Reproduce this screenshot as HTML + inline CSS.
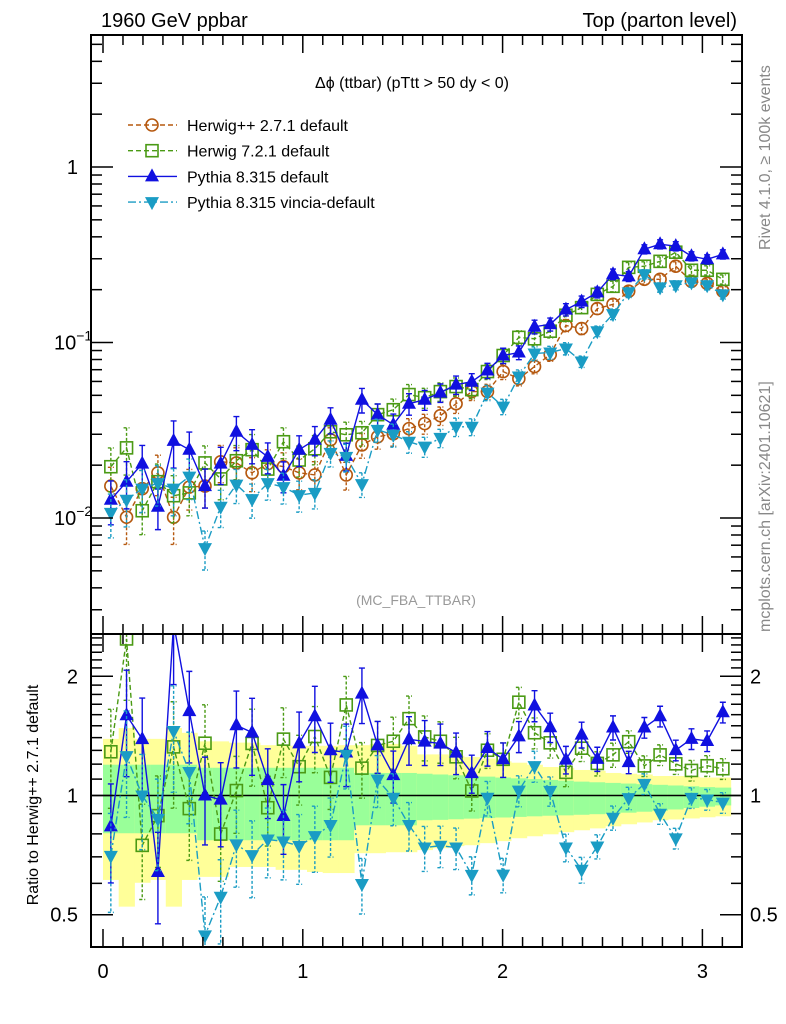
<!DOCTYPE html>
<html><head><meta charset="utf-8">
<style>
html,body{margin:0;padding:0;background:#fff;}
svg{display:block;font-family:"Liberation Sans",sans-serif;}
</style></head>
<body>
<svg id="chart" width="786" height="1024" viewBox="0 0 786 1024" xmlns="http://www.w3.org/2000/svg">
<defs>
<clipPath id="clipMain"><rect x="91" y="35" width="651" height="599"/></clipPath>
<clipPath id="clipRatio"><rect x="91" y="634" width="651" height="313"/></clipPath>
</defs>
<text x="101" y="27" font-size="20">1960 GeV ppbar</text>
<text x="737" y="27" font-size="20" text-anchor="end">Top (parton level)</text>
<text x="412" y="88" font-size="16" text-anchor="middle">Δϕ (ttbar) (pTtt &gt; 50 dy &lt; 0)</text>
<text x="416" y="605" font-size="14" fill="#999" text-anchor="middle">(MC_FBA_TTBAR)</text>
<text transform="translate(770,250) rotate(-90)" font-size="16" fill="#888">Rivet 4.1.0, ≥ 100k events</text>
<text transform="translate(770,632) rotate(-90)" font-size="16" fill="#888">mcplots.cern.ch [arXiv:2401.10621]</text>
<text transform="translate(38,795) rotate(-90)" font-size="16" text-anchor="middle">Ratio to Herwig++ 2.7.1 default</text>
<g id="bands" clip-path="url(#clipRatio)"></g>
<g id="ratioMarks" clip-path="url(#clipRatio)"></g>
<g id="mainMarks" clip-path="url(#clipMain)"></g>
<g id="axes"></g>
<g id="legend"></g>
</svg>
<script>
const binWidth = Math.PI/40;
const herwigpp = [0.0152,0.0101,0.0147,0.0181,0.0101,0.0150,0.0152,0.0209,0.0206,0.0181,0.0204,0.0196,0.0181,0.0176,0.0279,0.0176,0.0261,0.0290,0.0302,0.0323,0.0345,0.0383,0.0448,0.0525,0.0525,0.0683,0.0622,0.0729,0.0854,0.125,0.120,0.156,0.165,0.196,0.229,0.229,0.272,0.223,0.217,0.196];
const herwig7 = [0.0196,0.0251,0.0110,0.0161,0.0134,0.0139,0.0206,0.0167,0.0212,0.0245,0.0190,0.0272,0.0214,0.0248,0.0310,0.0298,0.0306,0.0388,0.0414,0.0505,0.0485,0.0525,0.0561,0.0539,0.0683,0.0843,0.107,0.105,0.116,0.143,0.158,0.188,0.209,0.268,0.272,0.290,0.327,0.258,0.258,0.229];
const pythia = [0.0127,0.0161,0.0204,0.0116,0.0275,0.0245,0.0152,0.0204,0.0310,0.0261,0.0223,0.0174,0.0245,0.0279,0.0363,0.0226,0.0472,0.0388,0.0340,0.0448,0.0472,0.0518,0.0575,0.0598,0.0692,0.0843,0.0877,0.123,0.127,0.154,0.171,0.193,0.245,0.238,0.340,0.363,0.354,0.310,0.298,0.318];
const vincia = [0.0107,0.0127,0.0147,0.0158,0.0147,0.0172,0.00674,0.0116,0.0155,0.0128,0.0158,0.0150,0.0135,0.0139,0.0235,0.0223,0.0156,0.0318,0.0298,0.0272,0.0255,0.0286,0.0331,0.0331,0.0518,0.0431,0.0640,0.0865,0.0877,0.0924,0.0779,0.116,0.145,0.193,0.245,0.206,0.212,0.220,0.212,0.188];
const errRel = [0.28,0.3,0.27,0.26,0.3,0.26,0.25,0.24,0.22,0.22,0.2,0.2,0.2,0.19,0.17,0.18,0.16,0.15,0.15,0.14,0.13,0.12,0.12,0.11,0.1,0.1,0.09,0.09,0.085,0.08,0.075,0.07,0.07,0.065,0.06,0.06,0.06,0.06,0.06,0.06];
const yellowUp = [1.39,1.48,1.39,1.39,1.48,1.44,1.37,1.37,1.36,1.36,1.34,1.335,1.335,1.335,1.335,1.34,1.34,1.35,1.35,1.335,1.27,1.27,1.26,1.25,1.24,1.22,1.21,1.196,1.18,1.175,1.16,1.155,1.14,1.135,1.13,1.12,1.12,1.116,1.11,1.11];
const yellowDn = [0.612,0.524,0.602,0.612,0.524,0.612,0.623,0.623,0.66,0.66,0.66,0.649,0.649,0.641,0.637,0.637,0.715,0.715,0.719,0.719,0.728,0.736,0.745,0.749,0.758,0.767,0.78,0.789,0.798,0.808,0.817,0.826,0.836,0.846,0.855,0.866,0.87,0.875,0.881,0.886];
const greenUp = [1.196,1.196,1.196,1.196,1.196,1.196,1.175,1.175,1.175,1.175,1.175,1.175,1.175,1.175,1.175,1.175,1.14,1.14,1.14,1.14,1.135,1.13,1.125,1.12,1.116,1.11,1.105,1.1,1.095,1.09,1.084,1.08,1.076,1.072,1.068,1.064,1.06,1.055,1.05,1.047];
const greenDn = [0.803,0.803,0.803,0.803,0.803,0.803,0.771,0.771,0.771,0.771,0.771,0.771,0.771,0.771,0.771,0.771,0.841,0.841,0.841,0.841,0.866,0.868,0.871,0.874,0.877,0.88,0.883,0.886,0.889,0.891,0.894,0.897,0.9,0.905,0.91,0.915,0.922,0.93,0.937,0.944];
const xTicks = [0,1,2,3];
const mainTickLabels = [[1,"1"],[0.1,"10"],[0.01,"10"]];
const ratioTickLabels = [[2,"2"],[1,"1"],[0.5,"0.5"]];

const NS="http://www.w3.org/2000/svg";
const X = v => 103 + v*199.8;
const YM = v => 167 - Math.log10(v)*175.5;
const YR = v => 795.5 - Math.log10(v)*396;
function mk(tag, attrs, parent){const e=document.createElementNS(NS,tag);for(const k in attrs)e.setAttribute(k,attrs[k]);parent.appendChild(e);return e;}
const axes=document.getElementById('axes');

// bands
const bandsG=document.getElementById('bands');
for(let i=0;i<40;i++){
  const x0=X(i*binWidth), x1=X((i+1)*binWidth);
  const y=mk('rect',{x:x0,y:YR(yellowUp[i]),width:x1-x0+0.5,height:YR(yellowDn[i])-YR(yellowUp[i]),fill:'#ffff99'},bandsG);
  
  
  const g=mk('rect',{x:x0,y:YR(greenUp[i]),width:x1-x0+0.5,height:YR(greenDn[i])-YR(greenUp[i]),fill:'#99ff99'},bandsG);
  
  
}
const ref=mk('line',{x1:91,x2:742,y1:YR(1),y2:YR(1),stroke:'#000','stroke-width':1.5},bandsG);



const series=[
 {name:'herwigpp',vals:herwigpp,color:'#b5580f',dash:'5,3',marker:'circle',ratio:false},
 {name:'herwig7',vals:herwig7,color:'#4a9a14',dash:'5,3',marker:'square',ratio:true},
 {name:'pythia',vals:pythia,color:'#1010e0',dash:'',marker:'up',ratio:true},
 {name:'vincia',vals:vincia,color:'#1a9cc4',dash:'8,3,2,3',marker:'down',ratio:true}
];
function marker(g,type,cx,cy,color,name){
  let e;
  if(type==='circle') e=mk('circle',{cx,cy,r:6,fill:'none',stroke:color,'stroke-width':1.6},g);
  else if(type==='square') e=mk('rect',{x:cx-6,y:cy-6,width:12,height:12,fill:'none',stroke:color,'stroke-width':1.6},g);
  else if(type==='up') e=mk('polygon',{points:`${cx},${cy-8} ${cx-7},${cy+5} ${cx+7},${cy+5}`,fill:color},g);
  else e=mk('polygon',{points:`${cx},${cy+8} ${cx-7},${cy-5} ${cx+7},${cy-5}`,fill:color},g);
  
  
}
function drawSeries(g,s,vals,Y,prefix){
  const pts=vals.map((v,i)=>[X((i+0.5)*binWidth),Y(v)]);
  const pl=mk('polyline',{points:pts.map(p=>p.join(',')).join(' '),fill:'none',stroke:s.color,'stroke-width':1.4,'stroke-dasharray':s.dash},g);
  
  
  vals.forEach((v,i)=>{
    const cx=X((i+0.5)*binWidth), yh=Y(v*(1+errRel[i])), yl=Y(v*(1-errRel[i]));
    const eb=mk('path',{d:`M${cx},${yh}V${yl}M${cx-3},${yh}H${cx+3}M${cx-3},${yl}H${cx+3}`,stroke:s.color,'stroke-width':1.4,fill:'none','stroke-dasharray':s.dash?'3,2':''},g);
    
    
    marker(g,s.marker,cx,Y(v),s.color,prefix+'-point-'+s.name);
  });
}
const mainG=document.getElementById('mainMarks');
series.forEach(s=>drawSeries(mainG,s,s.vals,YM,'main'));
const ratG=document.getElementById('ratioMarks');
series.filter(s=>s.ratio).forEach(s=>drawSeries(ratG,s,s.vals.map((v,i)=>v/herwigpp[i]),YR,'ratio'));

// frames
[[35,634],[634,947]].forEach(([t,b],k)=>{
  const f=mk('rect',{x:91,y:t,width:651,height:b-t,fill:'none',stroke:'#000','stroke-width':2},axes);
  
  
});
function tick(x1,y1,x2,y2){mk('line',{x1,y1,x2,y2,stroke:'#000','stroke-width':1.5},axes);}
// x ticks
for(let k=0;k<=31;k++){
  const v=k*0.1, x=X(v), L=(k%10===0)?18:10;
  [[35,1],[634,-1],[634,1],[947,-1]].forEach(([y,d])=>tick(x,y,x,y+d*L));
}
xTicks.forEach(v=>{const t=mk('text',{x:X(v),y:978,'font-size':20,'text-anchor':'middle'},axes);t.textContent=v;
  
  });
// main y ticks
for(let d=-3;d<=0;d++)for(let m=1;m<=9;m++){
  const v=m*Math.pow(10,d), y=YM(v); if(y<35||y>634)continue;
  const L=m===1?22:11; tick(91,y,91+L,y); tick(742,y,742-L,y);
}
mainTickLabels.forEach(([v,s],k)=>{
  const t=mk('text',{x:k===0?78:54,y:YM(v)+7,'font-size':20,'text-anchor':k===0?'end':'start'},axes);
  t.textContent=s;
  
  
  if(k>0){const sp=mk('tspan',{dy:-9,'font-size':14},t);sp.textContent=k===1?'−1':'−2';}
});
// ratio y ticks
const rt=[0.4,0.5,0.6,0.7,0.8,0.9,1,1.1,1.2,1.3,1.4,1.5,1.6,1.7,1.8,1.9,2,2.1,2.2,2.3,2.4,2.5];
rt.forEach(v=>{const y=YR(v); if(y<634||y>947)return; const L=(v===1||v===2||v===0.5)?22:11; tick(91,y,91+L,y); tick(742,y,742-L,y);});
ratioTickLabels.forEach(([v,s])=>{
  const t=mk('text',{x:78,y:YR(v)+7,'font-size':20,'text-anchor':'end'},axes);t.textContent=s;
  
  
  const t2=mk('text',{x:750,y:YR(v)+7,'font-size':20},axes);t2.textContent=s;
  
  
});
// legend
const lg=document.getElementById('legend');
const labels=['Herwig++ 2.7.1 default','Herwig 7.2.1 default','Pythia 8.315 default','Pythia 8.315 vincia-default'];
series.forEach((s,i)=>{
  const y=125+i*25.7;
  const g=mk('g',{},lg);
  
  
  mk('line',{x1:128,x2:177,y1:y,y2:y,stroke:s.color,'stroke-width':1.4,'stroke-dasharray':s.dash},g);
  marker(g,s.marker,152,y,s.color,'legend-marker');
  const t=mk('text',{x:187,y:y+6,'font-size':16},g);t.textContent=labels[i];
});
</script>
</body></html>
